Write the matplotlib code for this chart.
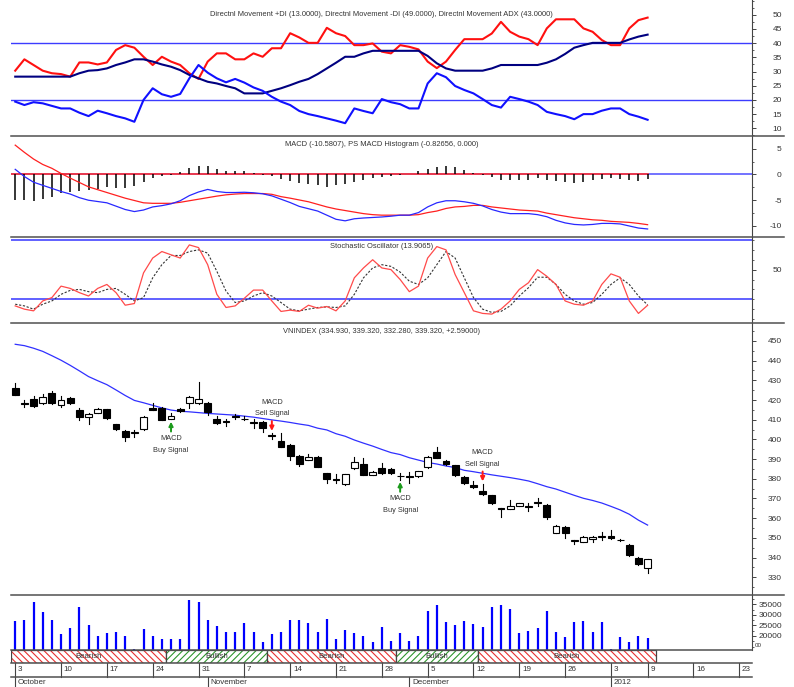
import matplotlib.pyplot as plt
from matplotlib.lines import Line2D
from matplotlib.patches import Rectangle
from matplotlib.ticker import MultipleLocator

plt.rcParams['font.family'] = ['Liberation Sans', 'DejaVu Sans']
plt.rcParams['hatch.linewidth'] = 0.8

# ---- data (one value per trading day, 3 Oct 2011 .. 9 Jan 2012) ----
plus_di = [19.4, 18.2, 19.2, 18.8, 17.9, 17.0, 17.0, 15.5, 14.3, 16.2,
           15.3, 14.3, 13.5, 12.3, 20.0, 24.1, 22.0, 21.1, 22.1, 27.6,
           32.3, 29.6, 27.6, 26.2, 27.4, 26.1, 24.4, 23.2, 21.1, 19.4,
           18.2, 16.1, 15.0, 14.3, 13.5, 12.7, 11.8, 17.0, 16.1, 15.3,
           20.3, 19.2, 18.5, 17.0, 17.0, 25.8, 29.4, 28.0, 24.9, 23.5,
           22.3, 20.3, 18.2, 17.3, 21.1, 20.3, 19.4, 18.2, 15.8, 15.0,
           14.3, 13.2, 15.0, 15.0, 16.2, 17.0, 17.0, 15.0, 14.1, 13.0]
minus_di = [30.3, 34.3, 32.3, 30.3, 29.4, 29.1, 28.2, 33.2, 33.2, 32.5,
            33.2, 37.6, 39.3, 38.4, 35.2, 32.3, 35.2, 33.5, 32.3, 29.4,
            27.4, 33.5, 36.4, 36.4, 34.3, 34.3, 36.4, 35.2, 38.2, 38.2,
            43.5, 42.0, 40.1, 40.1, 45.4, 43.5, 42.5, 39.3, 39.3, 39.9,
            37.0, 36.4, 39.3, 38.7, 37.8, 33.5, 31.2, 33.5, 37.6, 41.4,
            41.4, 41.4, 43.4, 47.5, 44.0, 42.3, 41.4, 39.3, 45.2, 48.4,
            48.4, 48.4, 45.2, 44.0, 41.1, 39.3, 39.3, 45.2, 48.1, 49.0]
adx = [28.2, 28.2, 28.2, 28.2, 28.2, 28.2, 28.2, 29.4, 30.3, 30.5,
       31.1, 32.3, 33.2, 34.3, 34.3, 33.5, 32.5, 31.7, 30.5, 28.8,
       27.6, 26.4, 25.8, 24.9, 24.1, 22.3, 22.3, 22.3, 23.2, 24.1,
       25.2, 26.4, 27.4, 29.1, 31.1, 33.1, 35.2, 35.2, 36.4, 37.3,
       37.3, 37.3, 37.3, 37.3, 37.3, 35.5, 32.9, 31.1, 30.3, 30.3,
       30.3, 30.3, 31.1, 32.3, 32.3, 32.3, 32.3, 32.3, 33.1, 34.3,
       36.2, 38.4, 39.3, 40.1, 40.1, 40.1, 40.1, 41.3, 42.3, 43.0]

macd_line = [1.0, -0.4, -1.5, -2.1, -2.7, -3.3, -3.8, -4.5, -5.0, -5.25,
             -5.5, -6.15, -6.8, -7.2, -6.9, -6.3, -6.05, -5.7, -5.1, -4.1,
             -3.4, -2.9, -3.3, -3.5, -3.5, -3.45, -3.55, -3.75, -4.15, -4.8,
             -5.45, -6.2, -6.65, -7.1, -7.9, -8.7, -9.0, -8.6, -8.45, -8.35,
             -8.25, -8.1, -7.9, -7.9, -7.4, -6.3, -5.5, -5.1, -5.1, -5.3,
             -5.6, -6.1, -6.8, -7.3, -7.6, -7.6, -7.6, -7.8, -8.2, -8.9,
             -9.4, -9.7, -9.8, -9.7, -9.5, -9.5, -9.6, -10.0, -10.4, -10.5807]
macd_signal = [5.7, 4.3, 3.0, 1.95, 1.2, 0.2, -0.7, -1.55, -2.4, -2.95,
               -3.5, -4.05, -4.6, -5.05, -5.5, -5.6, -5.6, -5.6, -5.4, -5.1,
               -4.8, -4.5, -4.2, -3.95, -3.8, -3.7, -3.7, -3.7, -3.85, -4.3,
               -4.6, -4.95, -5.3, -5.8, -6.3, -6.7, -7.0, -7.3, -7.6, -7.8,
               -7.9, -7.9, -7.9, -7.9, -7.8, -7.4, -7.1, -6.6, -6.3, -6.2,
               -6.0, -6.0, -6.3, -6.5, -6.7, -6.9, -7.0, -7.1, -7.5, -7.8,
               -8.1, -8.4, -8.6, -8.8, -8.9, -9.1, -9.2, -9.3, -9.5, -9.75]
macd_hist = [-5.0, -5.0, -5.2, -4.7, -4.4, -3.5, -3.4, -3.3, -3.1, -2.8,
             -2.4, -2.6, -2.6, -2.2, -1.5, -0.7, -0.3, -0.1, 0.45, 1.3,
             1.7, 1.6, 1.0, 0.6, 0.6, 0.6, 0.3, -0.1, -0.3, -0.8,
             -1.35, -1.6, -1.8, -2.0, -2.4, -2.1, -1.8, -1.5, -1.0, -0.7,
             -0.5, -0.3, -0.1, 0.1, 0.6, 1.1, 1.5, 1.7, 1.4, 0.9,
             0.3, -0.1, -0.5, -1.0, -1.0, -1.0, -1.0, -0.7, -1.0, -1.3,
             -1.5, -1.6, -1.5, -1.0, -0.8, -0.7, -0.8, -1.0, -1.2, -0.82656]

stoch_k = [13.3, 10.0, 8.3, 18.3, 21.7, 33.3, 31.0, 26.7, 23.3, 31.0,
           35.0, 26.7, 14.0, 15.7, 46.7, 61.7, 68.3, 65.0, 61.7, 75.0,
           72.3, 55.0, 25.0, 11.7, 13.3, 21.0, 29.3, 29.3, 18.3, 7.7,
           9.0, 7.7, 14.0, 11.0, 12.7, 8.3, 18.3, 41.7, 51.7, 60.0,
           51.7, 50.0, 40.0, 27.7, 33.3, 61.7, 73.3, 70.0, 45.0, 26.7,
           8.3, 5.7, 5.0, 10.0, 18.3, 30.0, 36.7, 50.0, 43.3, 35.0,
           18.3, 15.0, 14.0, 18.3, 35.0, 45.7, 42.3, 18.3, 5.7, 13.9065]
stoch_d = [15.0, 13.3, 10.0, 15.0, 18.3, 25.0, 29.0, 30.0, 27.7, 26.7,
           30.0, 31.0, 25.0, 18.3, 21.7, 41.7, 55.0, 64.3, 64.3, 68.3,
           70.0, 66.7, 48.3, 28.3, 16.7, 18.3, 23.3, 26.7, 23.3, 16.7,
           10.0, 8.3, 10.0, 11.7, 12.3, 11.7, 13.3, 25.0, 41.7, 51.7,
           55.0, 53.3, 47.5, 38.3, 35.0, 41.7, 55.0, 68.3, 61.7, 41.7,
           21.7, 10.0, 6.7, 7.7, 13.3, 23.3, 31.7, 42.3, 42.3, 35.0,
           25.0, 18.3, 15.0, 16.7, 25.0, 35.0, 41.7, 35.0, 23.3, 14.3]

opens = [426.3, 418.5, 420.5, 418.3, 423.8, 417.5, 420.9, 415.0, 411.2, 413.6,
         415.3, 407.7, 404.3, 403.0, 405.3, 415.8, 416.1, 410.4, 415.3, 418.3,
         418.3, 418.7, 410.2, 409.2, 411.8, 410.6, 409.0, 409.0, 402.3, 399.4,
         397.2, 391.6, 389.6, 391.3, 382.8, 380.0, 377.2, 385.4, 387.4, 382.0,
         385.6, 385.1, 381.6, 381.3, 381.4, 385.9, 393.8, 389.2, 386.9, 381.1,
         376.9, 374.0, 371.8, 365.2, 364.7, 366.2, 366.0, 368.0, 366.7, 352.6,
         355.7, 348.4, 348.1, 349.4, 350.4, 351.0, 349.1, 346.4, 340.0, 334.93]
highs = [428.5, 420.0, 422.0, 423.0, 424.5, 422.0, 421.5, 415.8, 413.6, 415.8,
         415.6, 408.0, 405.0, 405.0, 411.8, 418.3, 416.5, 413.6, 416.0, 421.9,
         429.0, 418.9, 412.0, 410.5, 413.0, 411.7, 410.4, 409.5, 403.0, 403.1,
         397.5, 392.0, 392.6, 391.8, 383.0, 382.5, 382.5, 391.0, 390.5, 384.0,
         388.0, 385.5, 382.8, 383.6, 384.2, 391.5, 396.3, 389.6, 387.2, 381.5,
         379.0, 377.4, 372.0, 365.4, 369.2, 367.8, 367.8, 370.0, 367.0, 356.5,
         356.0, 349.0, 350.8, 350.8, 352.8, 354.0, 349.5, 346.8, 340.4, 339.32]
lows = [422.3, 416.3, 416.3, 418.0, 418.0, 416.3, 418.0, 409.9, 407.8, 413.3,
        410.5, 405.0, 399.4, 401.4, 405.0, 415.0, 409.9, 410.2, 414.0, 415.8,
        418.0, 412.5, 408.0, 406.9, 410.5, 410.0, 406.0, 403.9, 400.0, 396.0,
        389.6, 386.5, 389.3, 385.9, 377.7, 377.7, 377.0, 385.2, 382.0, 381.8,
        382.5, 382.5, 379.6, 378.0, 381.0, 385.5, 390.5, 387.0, 381.5, 377.5,
        375.5, 372.0, 367.3, 360.8, 364.5, 366.0, 363.9, 366.0, 359.4, 352.4,
        349.8, 346.9, 347.8, 348.1, 349.0, 349.5, 348.5, 341.0, 336.4, 332.28]
closes = [422.6, 418.2, 417.1, 421.7, 418.3, 420.0, 418.3, 411.2, 412.8, 415.3,
          410.7, 405.2, 401.4, 403.6, 411.6, 415.0, 409.9, 412.1, 414.5, 421.7,
          420.7, 413.8, 408.2, 408.8, 411.2, 410.2, 408.4, 405.6, 401.5, 396.3,
          391.6, 387.4, 390.9, 385.9, 379.9, 379.6, 382.3, 388.7, 382.0, 383.6,
          382.8, 382.8, 381.2, 380.9, 384.0, 391.3, 390.7, 387.5, 381.8, 377.7,
          375.7, 372.3, 367.5, 364.9, 366.2, 367.5, 365.8, 367.8, 360.8, 356.2,
          352.3, 348.8, 350.6, 350.6, 350.8, 349.8, 348.8, 341.3, 336.6, 339.32]
moving_avg = [448.3, 447.6, 446.3, 444.7, 442.5, 440.2, 437.6, 434.8, 431.9, 429.8,
              427.8, 425.1, 422.3, 419.8, 418.6, 417.3, 416.0, 414.9, 414.3, 414.0,
              413.6, 413.2, 412.9, 412.6, 412.3, 411.8, 411.3, 410.6, 409.9, 409.3,
              408.6, 407.8, 407.1, 405.7, 404.8, 402.9, 401.6, 399.7, 398.1, 396.6,
              394.9, 393.3, 392.3, 390.7, 389.5, 388.3, 387.5, 386.5, 385.7, 384.3,
              383.6, 382.8, 382.0, 381.3, 380.6, 379.8, 378.9, 377.5, 376.0, 374.8,
              373.2, 371.6, 370.1, 369.0, 367.7, 366.0, 364.2, 362.0, 359.0, 356.5]
volume = [27270, 27580, 35970, 31230, 27580, 20790, 23630, 33600, 25210, 20160,
          21580, 22050, 20160, 13680, 23160, 20160, 18420, 18740, 18420, 37060,
          36270, 27580, 24890, 22050, 21900, 26000, 22050, 17300, 20950, 22050,
          27580, 27580, 26320, 22050, 27900, 18580, 22840, 21260, 20160, 17300,
          24420, 17770, 21400, 17630, 20160, 32010, 34690, 26490, 25210, 27270,
          25690, 24420, 33600, 34690, 32640, 21260, 22210, 23630, 32010, 22050,
          19680, 26790, 27110, 22050, 26790, 13840, 19680, 17300, 20160, 19210]

signal_days = [17, 28, 42, 51]
signal_kinds = ['Buy', 'Sell', 'Buy', 'Sell']
trend_edges = [-0.46, 16.5, 27.5, 41.5, 50.5, 69.9]
trend_names = ['Bearish', 'Bullish', 'Bearish', 'Bullish', 'Bearish']

week_pos = [0, 5, 10, 15, 20, 25, 30, 35, 40, 45, 50, 55, 60, 65, 69, 74, 79]
week_labels = ['3', '10', '17', '24', '31', '7', '14', '21', '28', '5', '12',
               '19', '26', '3', '9', '16', '23']
month_pos = [0, 21, 43, 65]
month_labels = ['October', 'November', 'December', '2012']

# ---- layout ----
W, H = 794, 687
fig = plt.figure(figsize=(W / 100, H / 100), dpi=100)
XL, XR = 11, 752
x_lo, x_hi = -0.46, 80.39
TXT = '#333333'
GRID = '#444444'
FS_TITLE = 5.4
FS_TICK = 6
FS_SMALL = 5.3
days = list(range(len(closes)))


def panel(top, bottom, ticks=True):
    ax = fig.add_axes([XL / W, 1 - bottom / H, (XR - XL) / W, (bottom - top) / H])
    ax.set_xlim(x_lo, x_hi)
    ax.patch.set_alpha(0)
    for s in ['top', 'bottom', 'left']:
        ax.spines[s].set_visible(False)
    ax.set_xticks([])
    if ticks:
        ax.spines['right'].set_color(GRID)
        ax.spines['right'].set_linewidth(0.8)
        ax.yaxis.tick_right()
        ax.tick_params(axis='y', which='major', length=3, width=0.7, color=GRID,
                       labelsize=FS_TICK, labelcolor=TXT, pad=18.5)
        ax.tick_params(axis='y', which='minor', length=1.5, width=0.6, color=GRID)
    else:
        ax.spines['right'].set_visible(False)
        ax.set_yticks([])
    return ax


def right_labels(ax, ticks, minor):
    ax.set_yticks(ticks)
    ax.set_yticklabels([str(t) for t in ticks], ha='right')
    ax.yaxis.set_minor_locator(MultipleLocator(minor))


def title(ax, y, s):
    ax.text(0.5, y, s, transform=ax.transAxes, ha='center', va='center',
            fontsize=FS_TITLE, color=TXT)


# DMI
ax1 = panel(0, 136)
ax1.set_ylim(7.29, 55.2)
ax1.axhline(40, color='#3c3cff', lw=1)
ax1.axhline(20, color='#3c3cff', lw=1)
ax1.plot(days, minus_di, color='#ff1010', lw=1.5)
ax1.plot(days, adx, color='#000080', lw=1.5)
ax1.plot(days, plus_di, color='#1010ff', lw=1.5)
right_labels(ax1, [10, 15, 20, 25, 30, 35, 40, 45, 50], 2.5)
title(ax1, 0.89, 'Directnl Movement +DI (13.0000), Directnl Movement -DI (49.0000), '
                 'Directnl Movement ADX (43.0000)')

# MACD
ax2 = panel(137, 237)
ax2.set_ylim(-12.14, 7.28)
ax2.axhline(0, color='#5a5aff', lw=1.2)
ax2.plot([x_lo, days[-1]], [0, 0], color='#ff3030', lw=1.2)
ax2.vlines(days, 0, macd_hist, color='black', lw=1.1)
ax2.plot(days, macd_signal, color='#ff2020', lw=0.9)
ax2.plot(days, macd_line, color='#2828ff', lw=0.9)
right_labels(ax2, [-10, -5, 0, 5], 2.5)
title(ax2, 0.92, 'MACD (-10.5807), PS MACD Histogram (-0.82656, 0.000)')

# Stochastic
ax3 = panel(237, 323)
ax3.set_ylim(-4.0, 83.0)
ax3.axhline(80, color='#4646ff', lw=1.2)
ax3.axhline(20, color='#4646ff', lw=1.2)
ax3.plot(days, stoch_d, color='#333333', lw=0.8, dashes=(2, 1.5))
ax3.plot(days, stoch_k, color='#ff4a4a', lw=0.9)
right_labels(ax3, [50], 10)
title(ax3, 0.884, 'Stochastic Oscillator (13.9065)')

# Price
ax4 = panel(323, 595)
ax4.set_ylim(321.0, 459.1)
ax4.plot(days, moving_avg, color='#3030ff', lw=0.9)
for i, (o, h, l, c) in enumerate(zip(opens, highs, lows, closes)):
    ax4.plot([i, i], [l, h], color='black', lw=0.8, zorder=2)
    ax4.add_patch(Rectangle((i - 0.37, min(o, c)), 0.74, abs(c - o),
                            facecolor='black' if c < o else 'white',
                            edgecolor='black', lw=0.8, zorder=3))
for d, kind in zip(signal_days, signal_kinds):
    if kind == 'Buy':
        tip = lows[d] - 1.2
        ax4.annotate('', xy=(d, tip), xytext=(d, tip - 5),
                     arrowprops=dict(arrowstyle='-|>', color='#1c9a1c', lw=1.4,
                                     mutation_scale=6, shrinkA=0, shrinkB=0))
        ax4.text(d, tip - 8.6, 'MACD', ha='center', va='center', fontsize=FS_SMALL, color=TXT)
        ax4.text(d, tip - 14.6, 'Buy Signal', ha='center', va='center', fontsize=FS_SMALL, color=TXT)
    else:
        tip = highs[d] + 1.3
        ax4.annotate('', xy=(d, tip), xytext=(d, tip + 5),
                     arrowprops=dict(arrowstyle='-|>', color='#ff1a1a', lw=1.4,
                                     mutation_scale=6, shrinkA=0, shrinkB=0))
        ax4.text(d, tip + 14.6, 'MACD', ha='center', va='center', fontsize=FS_SMALL, color=TXT)
        ax4.text(d, tip + 8.6, 'Sell Signal', ha='center', va='center', fontsize=FS_SMALL, color=TXT)
right_labels(ax4, list(range(330, 451, 10)), 5)
title(ax4, 0.967, 'VNINDEX (334.930, 339.320, 332.280, 339.320, +2.59000)')

# Volume
ax5 = panel(596, 650)
ax5.set_ylim(13365, 38934)
ax5.vlines(days, 0, volume, color='#0000ff', lw=1.6)
right_labels(ax5, [20000, 25000, 30000, 35000], 2500)
ax5.text(1.004, 0.08, '00', transform=ax5.transAxes, ha='left', va='center',
         fontsize=4.5, color=TXT, clip_on=False)

# Trend band
ax6 = panel(650, 663, ticks=False)
ax6.set_ylim(0, 1)
for k, name in enumerate(trend_names):
    a, b = trend_edges[k], trend_edges[k + 1]
    col = '#e83030' if name == 'Bearish' else '#2e962e'
    hatch = '\\\\\\\\\\' if name == 'Bearish' else '/////'
    ax6.add_patch(Rectangle((a, 0), b - a, 1, facecolor='white', edgecolor=col,
                            lw=0, hatch=hatch))
    ax6.add_patch(Rectangle((a, 0), b - a, 1, fill=False, edgecolor=GRID, lw=0.9))
    ax6.text((a + b) / 2, 0.5, name, ha='center', va='center', fontsize=5.6,
             color=TXT, zorder=5)

# Date axis
ax7 = panel(663, 687, ticks=False)
ax7.set_ylim(0, 1)
for p, lab in zip(week_pos, week_labels):
    ax7.plot([p, p], [0.4167, 1], color=GRID, lw=0.8)
    ax7.text(p + 0.3, 0.71, lab, ha='left', va='center', fontsize=5.8, color=TXT)
for p, lab in zip(month_pos, month_labels):
    ax7.plot([p, p], [0, 0.4167], color=GRID, lw=0.8)
    ax7.text(p + 0.3, 0.17, lab, ha='left', va='center', fontsize=5.8, color=TXT)

# separators
for y, x1 in [(136, 784), (237, 784), (323, 784), (595, 784),
              (650, 752), (663, 752), (677, 752)]:
    fig.add_artist(Line2D([XL / W, x1 / W], [1 - y / H, 1 - y / H],
                          transform=fig.transFigure, color='#505050', lw=1.1))

fig.savefig('out.png', dpi=100)
